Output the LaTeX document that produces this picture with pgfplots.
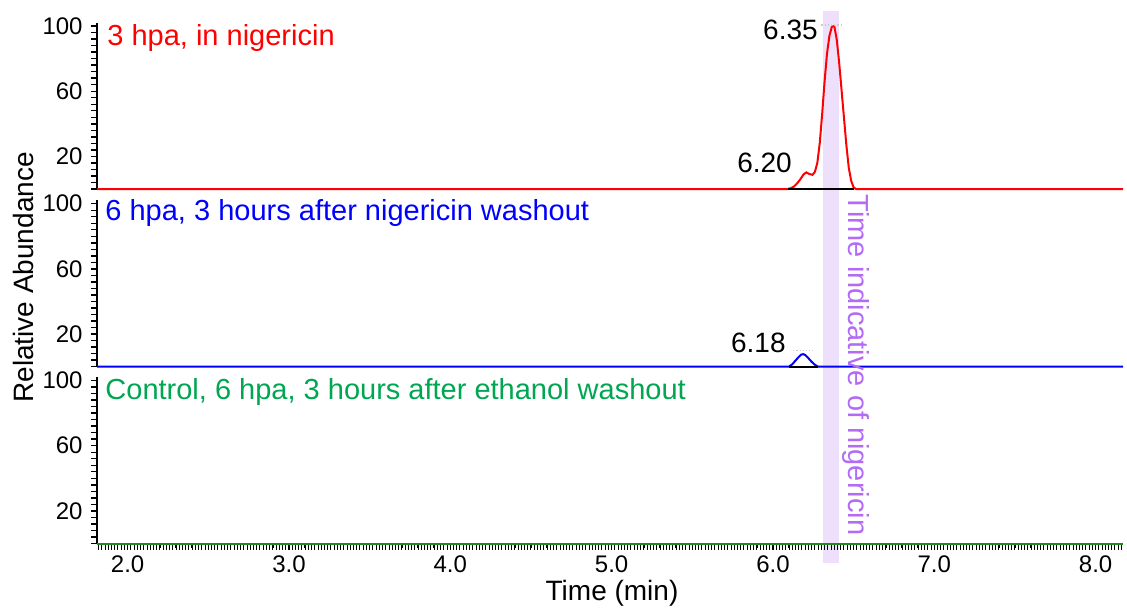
\documentclass[border=0pt]{standalone}
\usepackage{fontspec}
\setmainfont{Liberation Sans}
\usepackage{pgfplots}
\pgfplotsset{compat=1.18}
\definecolor{bandcol}{HTML}{EEE0FA}
\definecolor{purptext}{HTML}{B36BF5}
\definecolor{greentitle}{HTML}{00A651}
\definecolor{greenline}{HTML}{1E8C1E}
\pgfplotsset{
  panel/.style={
    scale only axis, width=513pt, height=83.13pt,
    xmin=1.81, xmax=8.17, ymin=0, ymax=102,
    axis y line*=left,
    axis line style={-, line width=1pt, black},
    ytick={20,60,100}, minor ytick={0,4,...,100},
    tick align=outside,
    major tick length=3pt, minor tick length=3pt,
    every tick/.style={black, line width=0.7pt},
    minor tick style={black, line width=0.7pt},
    yticklabel style={font=\fontsize{12}{12}\selectfont, anchor=east, inner sep=0pt, xshift=-4pt},
    /pgf/number format/assume math mode=true,
    clip=false,
  },
  upper/.style={panel, axis x line=none, xtick=\empty},
}
\begin{document}
\begin{tikzpicture}
\useasboundingbox (0,0) rectangle (563.5pt,-303.5pt);
% top panel
\begin{axis}[upper, at={(48.5pt,-94.5pt)}, anchor=south west]
\fill[bandcol] (axis cs:6.31,-229.4) rectangle (axis cs:6.41,109.2);
\addplot[red, line width=1pt] coordinates {
(1.81,0) (6.090,0) (6.110,0.5) (6.130,1.5) (6.150,3.5) (6.170,6) (6.190,9)
(6.207,10.2) (6.225,9.2) (6.245,8.7) (6.260,10.5) (6.275,16) (6.290,28)
(6.305,46) (6.320,66) (6.335,83) (6.350,94) (6.365,99.5) (6.380,100)
(6.395,92) (6.410,78) (6.425,61) (6.440,44) (6.455,27) (6.470,13)
(6.485,5) (6.500,1) (6.515,0) (8.17,0)};
\addplot[black, line width=1pt] coordinates {(6.094,0) (6.500,0)};
\addplot[gray!40, densely dotted, line width=0.6pt] coordinates {(6.30,100.6) (6.42,100.6)};
\node[red, anchor=west, inner sep=0pt, font=\fontsize{14.5}{14.5}\selectfont] at (axis cs:1.872,92.5) {3 hpa, in nigericin};
\node[black, anchor=east, inner sep=0pt, font=\fontsize{14}{14}\selectfont] at (axis cs:6.280,97.5) {6.35};
\node[black, anchor=east, inner sep=0pt, font=\fontsize{14}{14}\selectfont] at (axis cs:6.119,16) {6.20};
\end{axis}
% middle panel
\begin{axis}[upper, at={(48.5pt,-183.35pt)}, anchor=south west]
\addplot[blue, line width=1pt] coordinates {
(1.81,0) (6.098,0) (6.12,1.5) (6.14,3.8) (6.16,6) (6.175,7.4) (6.187,7.7)
(6.20,7.2) (6.22,5.2) (6.24,3) (6.26,1.2) (6.28,0) (8.17,0)};
\addplot[black, line width=1pt] coordinates {(6.098,0) (6.28,0)};
\addplot[gray!40, densely dotted, line width=0.6pt] coordinates {(6.125,9.8) (6.249,9.8)};
\node[blue, anchor=west, inner sep=0pt, font=\fontsize{14.5}{14.5}\selectfont] at (axis cs:1.86,94.3) {6 hpa, 3 hours after nigericin washout};
\node[black, anchor=east, inner sep=0pt, font=\fontsize{14}{14}\selectfont] at (axis cs:6.081,14.7) {6.18};
\end{axis}
% bottom panel
\begin{axis}[panel, at={(48.5pt,-271.75pt)}, anchor=south west,
  axis x line*=bottom,
  xtick={2,3,4,5,6,7,8},
  xticklabel={\pgfmathprintnumber[fixed,fixed zerofill,precision=1]{\tick}},
  xticklabel style={font=\fontsize{12}{12}\selectfont, anchor=north, inner sep=0pt, yshift=-3pt},
  minor xtick={1.82,1.84,...,8.17},
  extra x ticks={1.9,2.0,...,8.15},
  extra x tick labels={},
  extra x tick style={major tick length=2pt},
  x axis line style={line width=1pt},
  minor x tick style={line width=0.5pt},
  ]
\addplot[greenline, line width=1pt] coordinates {(1.81,0) (8.17,0)};
\node[greentitle, anchor=west, inner sep=0pt, font=\fontsize{14.5}{14.5}\selectfont] at (axis cs:1.86,93) {Control, 6 hpa, 3 hours after ethanol washout};
\node[purptext, rotate=-90, inner sep=0pt, font=\fontsize{14.5}{14.5}\selectfont] at (axis cs:6.515,109.5) {Time indicative of nigericin};
\end{axis}
\node[rotate=90, font=\fontsize{14}{14}\selectfont] at (11.7pt,-138.7pt) {Relative Abundance};
\node[font=\fontsize{14}{14}\selectfont] at (306pt,-296.5pt) {Time (min)};
\end{tikzpicture}
\end{document}
